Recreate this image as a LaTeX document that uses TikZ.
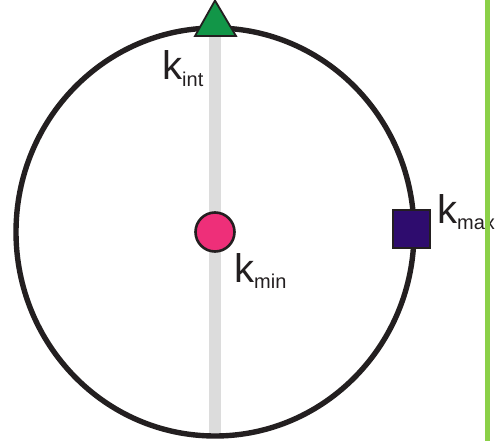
\documentclass[tikz,border=0pt]{standalone}
\usepackage{fontspec}
\setmainfont{Liberation Sans}
\definecolor{barGray}{RGB}{220,220,220}
\definecolor{ringBlack}{RGB}{35,31,32}
\definecolor{triGreen}{RGB}{18,150,72}
\definecolor{pinkDot}{RGB}{238,47,121}
\definecolor{sqIndigo}{RGB}{46,12,110}
\definecolor{lineGreen}{RGB}{139,208,72}
\newcommand{\klabel}[1]{{\fontsize{40}{40}\selectfont k}\raisebox{-6.5pt}{\fontsize{20}{20}\selectfont #1}}
\begin{document}
\begin{tikzpicture}[x=1pt,y=-1pt,
  ring/.style={draw=ringBlack,line width=5.4pt},
  marker/.style={draw=ringBlack,line width=1.8pt,line join=miter},
  lab/.style={inner sep=0pt,anchor=base west,text=ringBlack}]
\useasboundingbox (0,0) rectangle (500,441);
\fill[barGray] (209,30) rectangle (221,436);
\draw[ring] (215,232) ellipse [x radius=199, y radius=204];
\coordinate (apex) at (215,0.5);
\coordinate (bl) at (195,36);
\coordinate (br) at (236,36);
\filldraw[marker,fill=triGreen] (apex) -- (br) -- (bl) -- cycle;
\filldraw[marker,line width=2.6pt,fill=pinkDot] (215,232) circle [radius=19.5];
\filldraw[marker,fill=sqIndigo] (393,210) rectangle (430,248);
\node[lab] (kint) at (162,80) {\klabel{int}};
\node[lab] (kmin) at (234,282) {\klabel{min}};
\node[lab] (kmax) at (437,223) {\klabel{max}};
\fill[lineGreen] (484.5,0) rectangle (490,441);
\end{tikzpicture}
\end{document}
